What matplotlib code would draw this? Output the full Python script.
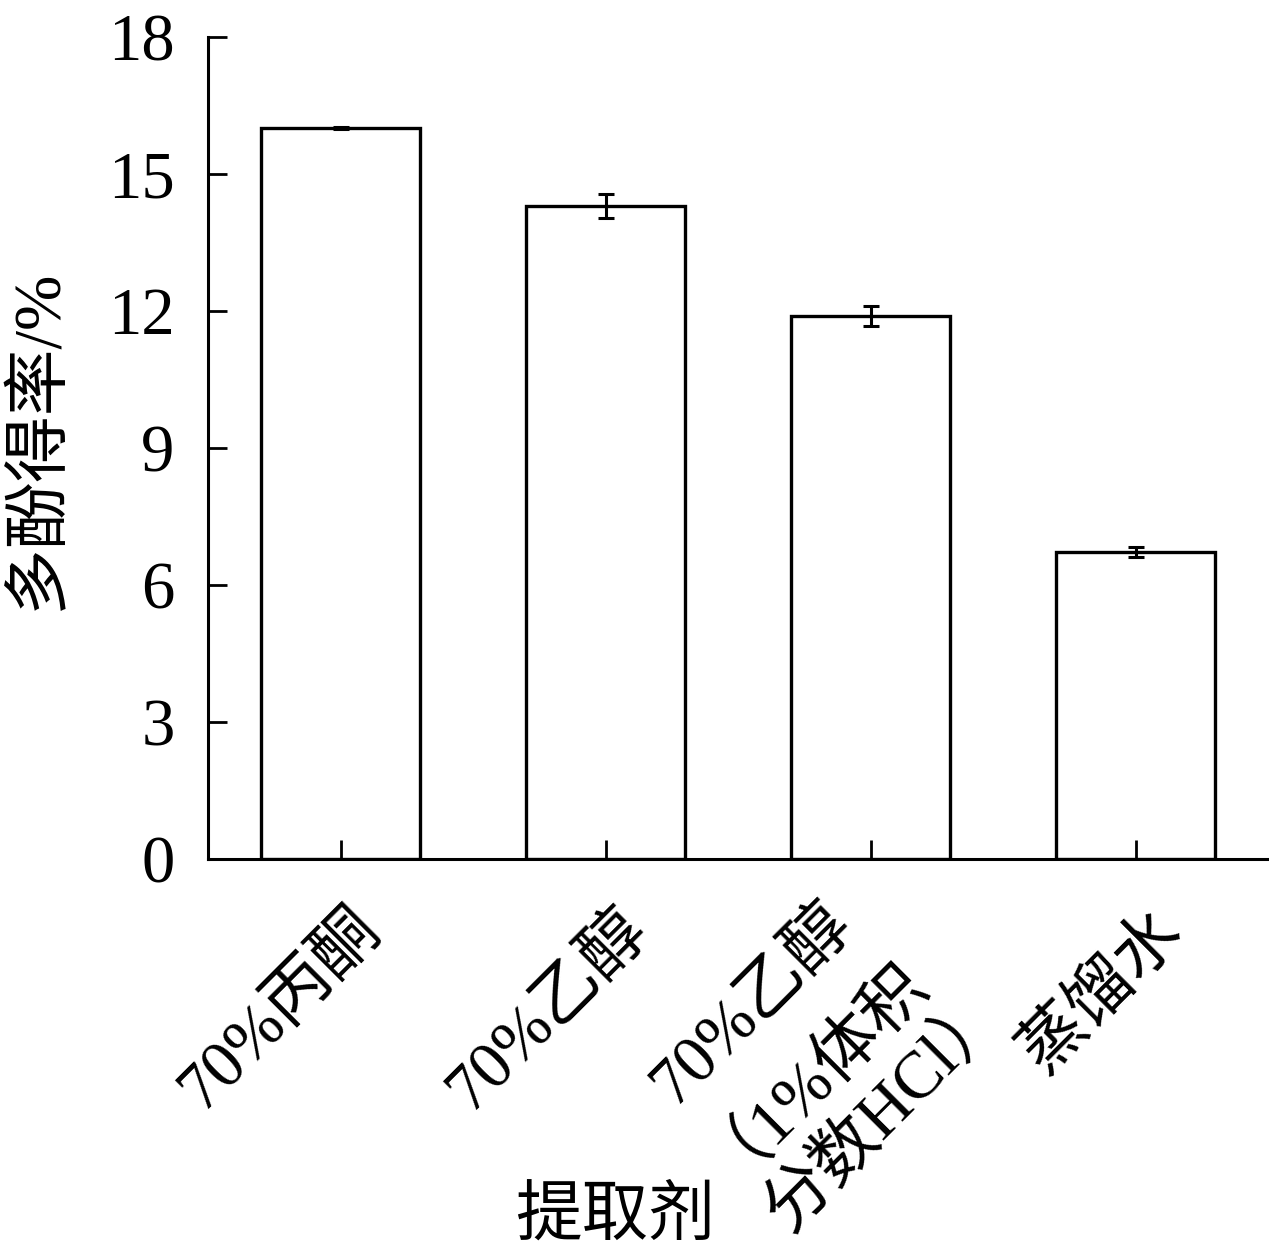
import numpy as np
import matplotlib.pyplot as plt
import matplotlib.transforms as mtransforms

# 数据
categories = ['70%丙酮', '70%乙醇', '70%乙醇\n（1%体积\n分数HCl）', '蒸馏水']
yield_vals = [16.0, 14.3, 11.9, 6.72]
yield_err = [0.02, 0.26, 0.22, 0.11]
y_ticks = [0, 3, 6, 9, 12, 15, 18]

fam = ['Liberation Serif', 'Noto Sans CJK SC']
plt.rcParams['font.family'] = fam

fig = plt.figure(figsize=(12.69, 12.54), dpi=100)
ax = fig.add_axes([208 / 1269, 1 - 859 / 1254, 1060 / 1269, 822 / 1254])

x = np.arange(len(categories))
ax.bar(x, yield_vals, width=0.6, color='white', edgecolor='black', linewidth=2.4)
ax.errorbar(x, yield_vals, yerr=yield_err, fmt='none', ecolor='black',
            elinewidth=2.2, capsize=6, capthick=2.2)

ax.set_xlim(-0.5, 3.5)
ax.set_ylim(0, 18)
ax.set_yticks(y_ticks)
ax.set_yticklabels([str(v) for v in y_ticks], fontsize=48)
ax.set_xticks(x)
ax.set_xticklabels([])

# x轴标签逐行手动放置（按基线对齐，避免全角括号影响行高）
# 每行基线右端相对刻度的偏移（像素）
line_shifts = [[(42, -72)],
               [(45, -73)],
               [(-16, -67), (48, -99), (137, -154)],
               [(49, -75)]]
xt = ax.get_xaxis_transform()
for i, (cat, shifts) in enumerate(zip(categories, line_shifts)):
    for line, (dx, dy) in zip(cat.split('\n'), shifts):
        off = mtransforms.ScaledTranslation(dx / 100, dy / 100, fig.dpi_scale_trans)
        ax.text(x[i], 0, line, transform=xt + off, fontsize=48, rotation=45,
                ha='right', va='baseline', rotation_mode='anchor')

ax.tick_params(axis='both', direction='in', length=14, width=2, colors='black')
ax.tick_params(axis='y', pad=24)
for s in ['top', 'right']:
    ax.spines[s].set_visible(False)
for s in ['left', 'bottom']:
    ax.spines[s].set_linewidth(2.2)

ax.set_ylabel('多酚得率/%', fontsize=48)
ax.yaxis.set_label_coords(-0.130, 0.51)
fig.text(615 / 1269, 1 - 1218 / 1254, '提取剂', fontsize=48, ha='center', va='center')

fig.savefig('out.png', dpi=100)
